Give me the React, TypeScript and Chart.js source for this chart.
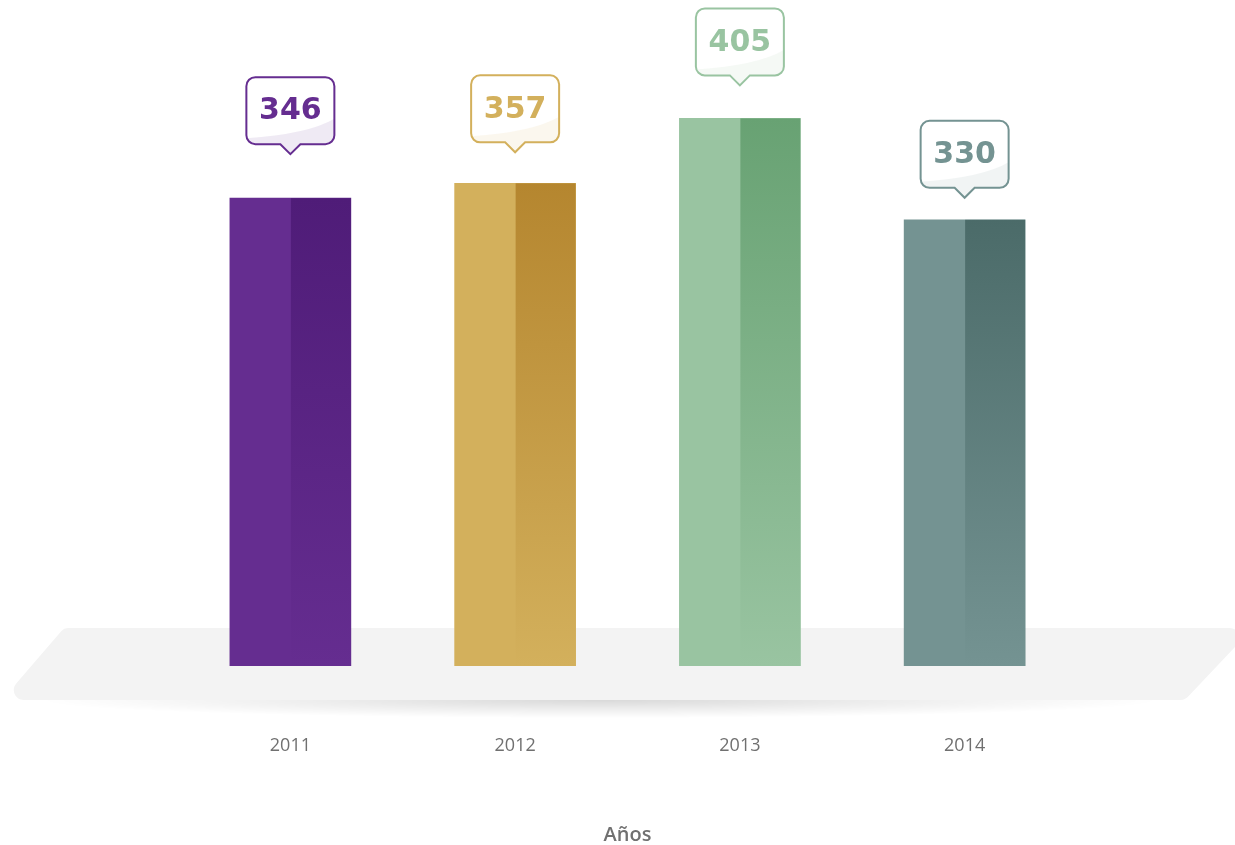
import React, { useEffect, useRef } from "react";
import { Chart, registerables } from "chart.js";

Chart.register(...registerables);

const years = ["2011", "2012", "2013", "2014"];
const values = [346, 357, 405, 330];
const lightColors = ["#652d90", "#d3b05c", "#99c4a1", "#749392"];
const darkColors = ["#4f1c78", "#b5862f", "#68a273", "#4b6b69"];
const axisTitle = "Años";
// gap (px) between bubble tip and bar top
const labelGaps = [44, 31, 33, 22];

function roundedPoly(ctx: CanvasRenderingContext2D, pts: number[][], r: number) {
  ctx.beginPath();
  const n = pts.length;
  for (let i = 0; i < n; i++) {
    const p0 = pts[(i - 1 + n) % n];
    const p1 = pts[i];
    const p2 = pts[(i + 1) % n];
    const mx = (p0[0] + p1[0]) / 2;
    const my = (p0[1] + p1[1]) / 2;
    if (i === 0) ctx.moveTo(mx, my);
    ctx.arcTo(p1[0], p1[1], p2[0], p2[1], r);
  }
  ctx.closePath();
}

const floorPlugin = {
  id: "floor",
  beforeDatasetsDraw(chart: any) {
    const { ctx, chartArea } = chart;
    const b = chartArea.bottom;
    const top = b - 38;
    const bot = b + 34;
    const W = chart.width;
    ctx.save();
    // shadow
    ctx.save();
    ctx.beginPath();
    ctx.rect(0, bot, W, 30);
    ctx.clip();
    ctx.translate(600, bot);
    ctx.scale(1, 18 / 560);
    const g = ctx.createRadialGradient(0, 0, 0, 0, 0, 560);
    g.addColorStop(0, "rgba(0,0,0,0.15)");
    g.addColorStop(0.5, "rgba(0,0,0,0.07)");
    g.addColorStop(1, "rgba(0,0,0,0)");
    ctx.fillStyle = g;
    ctx.beginPath();
    ctx.arc(0, 0, 560, 0, Math.PI * 2);
    ctx.fill();
    ctx.restore();
    // platform
    roundedPoly(
      ctx,
      [
        [64, top],
        [W + 18, top],
        [W - 50, bot],
        [2, bot],
      ],
      10
    );
    ctx.fillStyle = "#f3f3f3";
    ctx.fill();
    ctx.restore();
  },
};

const barDecor = {
  id: "barDecor",
  afterDatasetsDraw(chart: any) {
    const { ctx } = chart;
    const meta = chart.getDatasetMeta(0);
    meta.data.forEach((bar: any, i: number) => {
      const { x, y, base, width } = bar.getProps(["x", "y", "base", "width"], true);
      const left = x - width / 2;
      const mid = left + Math.round(width / 2);
      const right = x + width / 2;
      ctx.save();
      const g = ctx.createLinearGradient(0, y, 0, base);
      g.addColorStop(0, darkColors[i]);
      g.addColorStop(1, lightColors[i]);
      ctx.fillStyle = g;
      ctx.fillRect(mid, y, right - mid, base - y);
      ctx.restore();

      // bubble label
      const color = lightColors[i];
      const tipY = y - labelGaps[i];
      const ph = 10;
      const bw = 88;
      const bh = 67;
      const bx = x - bw / 2;
      const by = tipY - ph - bh;
      const r = 9;
      const path = () => {
        ctx.beginPath();
        ctx.moveTo(bx + r, by);
        ctx.lineTo(bx + bw - r, by);
        ctx.arcTo(bx + bw, by, bx + bw, by + r, r);
        ctx.lineTo(bx + bw, by + bh - r);
        ctx.arcTo(bx + bw, by + bh, bx + bw - r, by + bh, r);
        ctx.lineTo(x + 10, by + bh);
        ctx.lineTo(x, tipY);
        ctx.lineTo(x - 10, by + bh);
        ctx.lineTo(bx + r, by + bh);
        ctx.arcTo(bx, by + bh, bx, by + bh - r, r);
        ctx.lineTo(bx, by + r);
        ctx.arcTo(bx, by, bx + r, by, r);
        ctx.closePath();
      };
      ctx.save();
      path();
      ctx.fillStyle = "#ffffff";
      ctx.fill();
      ctx.save();
      ctx.clip();
      ctx.beginPath();
      ctx.moveTo(bx, by + bh - 6);
      ctx.quadraticCurveTo(bx + bw * 0.7, by + bh - 10, bx + bw, by + bh * 0.62);
      ctx.lineTo(bx + bw, tipY + 2);
      ctx.lineTo(bx, tipY + 2);
      ctx.closePath();
      ctx.globalAlpha = 0.1;
      ctx.fillStyle = color;
      ctx.fill();
      ctx.restore();
      path();
      ctx.lineWidth = 2;
      ctx.strokeStyle = color;
      ctx.stroke();
      ctx.fillStyle = color;
      ctx.font = "bold 30px 'DejaVu Sans', sans-serif";
      ctx.textAlign = "center";
      ctx.textBaseline = "middle";
      ctx.fillText(String(values[i]), x, by + bh / 2 + 1);
      ctx.restore();
    });
  },
};

export default function App() {
  const ref = useRef<HTMLCanvasElement | null>(null);
  useEffect(() => {
    if (!ref.current) return;
    const chart = new Chart(ref.current, {
      type: "bar",
      data: {
        labels: years,
        datasets: [
          {
            data: values,
            backgroundColor: lightColors,
            borderWidth: 0,
            barThickness: 121,
          },
        ],
      },
      options: {
        animation: false,
        responsive: true,
        maintainAspectRatio: false,
        layout: { padding: { left: 178, right: 158, top: 17, bottom: 0 } },
        plugins: { legend: { display: false }, tooltip: { enabled: false } },
        scales: {
          y: { display: false, min: 0, max: 480 },
          x: {
            grid: { display: false, drawTicks: false },
            border: { display: false },
            ticks: {
              color: "#707070",
              padding: 69,
              font: { family: "'Open Sans', sans-serif", size: 18, lineHeight: 21 / 18 },
            },
            title: {
              display: true,
              text: axisTitle,
              color: "#707070",
              padding: { top: 0, bottom: 0 },
              font: { family: "'Open Sans', sans-serif", size: 20, weight: "600", lineHeight: 1 },
            },
          },
        },
      },
      plugins: [floorPlugin, barDecor],
    });
    return () => chart.destroy();
  }, []);
  return (
    <div style={{ position: "absolute", left: 0, top: 0, width: 1235, height: 845 }}>
      <canvas ref={ref} />
    </div>
  );
}
